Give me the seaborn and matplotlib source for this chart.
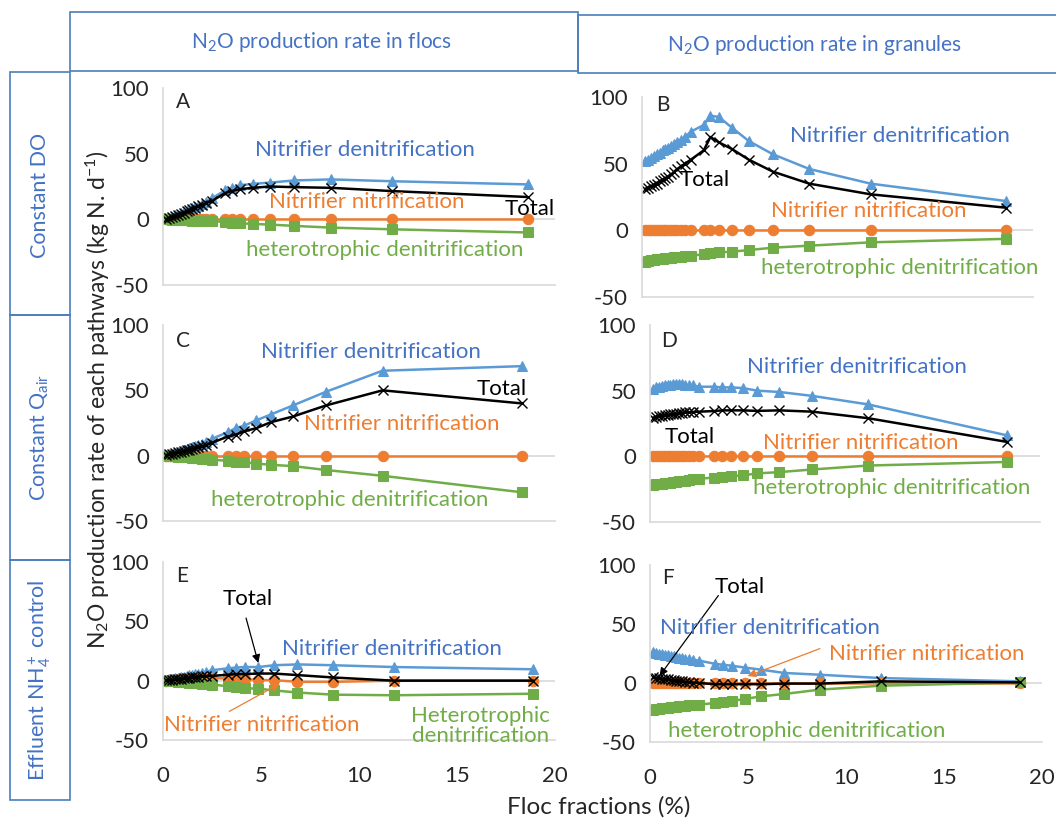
import matplotlib
matplotlib.use("Agg")
import matplotlib.pyplot as plt
from matplotlib.patches import Rectangle
import seaborn as sns

sns.set_style("white")
plt.rcParams["font.family"] = ["Lato", "DejaVu Sans"]
plt.rcParams["mathtext.fontset"] = "custom"
plt.rcParams["mathtext.rm"] = "Lato"
plt.rcParams["mathtext.it"] = "Lato:italic"
plt.rcParams["axes.unicode_minus"] = False

# ---- data ----
dense_x = [0.15, 0.3, 0.45, 0.6, 0.75, 0.9, 1.05, 1.2, 1.35, 1.5, 1.65, 1.8, 2.0, 2.2]
x_const_do = dense_x + [2.5, 3.16, 3.5, 3.93, 4.6, 5.46, 6.7, 8.56, 11.7, 18.6]
x_const_qair = dense_x + [2.52, 3.3, 3.7, 4.15, 4.75, 5.5, 6.64, 8.33, 11.2, 18.3]
x_nh4 = dense_x + [2.5, 3.3, 3.7, 4.2, 4.87, 5.67, 6.86, 8.67, 11.77, 18.9]

zeros = [0] * 24

a_nd = [0.5, 1, 2, 3, 3.5, 4.5, 5.5, 6.5, 7.5, 8.5, 9.5, 10.5, 12, 13.5, 16, 22, 24, 26, 27, 28, 29.6, 30.4, 29, 26.6]
a_total = [0.3, 0.8, 1.5, 2.5, 3, 4, 5, 6, 7, 8, 9, 10, 11, 12.5, 14, 20, 21.5, 23, 24, 25, 24.5, 24, 21.5, 17]
a_nn = zeros
a_hd = [0, -0.1, -0.2, -0.3, -0.4, -0.5, -0.6, -0.7, -0.8, -0.9, -1, -1, -1.1, -1.2, -1.3, -2, -2.5, -3, -3.5, -4, -5, -6.3, -7.6, -10]

b_nd = [52, 53, 54, 56, 57, 58, 60, 61, 62, 63, 65, 66, 68, 70, 74, 79, 86, 85, 77, 67, 57, 46, 35, 22]
b_total = [31, 32, 33, 34, 35, 37, 38, 39, 40, 42, 44, 46, 48, 50, 53, 60, 70, 66, 61, 53, 44, 35, 27, 17]
b_nn = zeros
b_hd = [-23.5, -23, -22.5, -22, -21.8, -21.5, -21.2, -21, -20.7, -20.5, -20.2, -20, -19.7, -19.4, -19, -18, -17.3, -16.5, -16, -14.8, -13, -11.5, -9, -6.4]

c_nd = [0.5, 1, 1.5, 2, 2.8, 3.5, 4.2, 5, 5.8, 6.5, 7.3, 8, 9, 10.5, 13, 18, 21, 23, 27, 31.5, 38.5, 49, 65, 68.5]
c_total = [0.5, 1, 1.5, 2, 2.5, 3, 3.5, 4, 4.6, 5.2, 5.8, 6.4, 7.2, 8.2, 10, 14.6, 16, 18.7, 21, 25.6, 30, 38.5, 50, 40]
c_nn = zeros
c_hd = [0, -0.2, -0.4, -0.5, -0.7, -0.9, -1, -1.2, -1.4, -1.6, -1.8, -2, -2.3, -2.6, -3, -4, -4.5, -5, -6, -7, -8, -11, -15.4, -28]

d_nd = [51.5, 52.5, 53, 53.5, 54, 54.5, 54.5, 54.8, 55, 55, 54.8, 54.5, 54.2, 54, 53, 53, 52.5, 52.5, 52, 50, 49, 46, 39.5, 16]
d_total = [29.5, 30, 30.5, 31, 31.5, 31.8, 32, 32.3, 32.6, 33, 33.2, 33.4, 33.6, 33.8, 34, 34.5, 35, 35, 35, 34.6, 35, 34, 29, 11]
d_nn = zeros
d_hd = [-21.5, -21.2, -21, -20.7, -20.5, -20.2, -20, -19.7, -19.4, -19.1, -18.8, -18.5, -18, -17.5, -17, -16.2, -15.8, -15, -14.5, -13, -12, -10, -7, -4.3]

e_nd = [0.5, 1, 1.5, 2, 2.5, 3, 3.5, 4, 4.5, 5, 5.5, 6, 6.8, 7.5, 8.8, 10.4, 11, 11.5, 11.5, 13, 13.7, 13, 11.5, 9.6]
e_total = [0.3, 0.5, 0.8, 1, 1.3, 1.6, 2, 2.3, 2.6, 2.9, 3.2, 3.5, 3.7, 3.9, 4, 5, 5.5, 5.5, 6, 6, 4.7, 2.7, 0, 0]
e_nn = [0, 0.2, 0.4, 0.6, 0.8, 1, 1.2, 1.4, 1.5, 1.6, 1.7, 1.8, 1.9, 2, 2, 2, 2, 1.4, 0.5, 0.5, -1, -1, 0, 0]
e_hd = [0, -0.2, -0.4, -0.6, -0.8, -1, -1.2, -1.4, -1.6, -1.8, -2, -2.2, -2.5, -2.8, -3.3, -4.7, -5.5, -6.3, -6.8, -8.2, -10, -11.8, -12.3, -11]

f_nd = [26, 25.5, 25, 24.5, 24, 23.5, 23, 22.5, 22, 21.5, 21, 20.5, 20, 19.5, 19, 16.3, 15.5, 14.6, 13, 11.3, 8.5, 7, 4.2, 1.4]
f_total = [5, 4.6, 4.2, 3.8, 3.4, 3, 2.7, 2.4, 2.1, 1.8, 1.5, 1.2, 0.8, 0.4, 0, -1, -1, -1, -1, -1, -0.5, -0.5, 1.4, 0.5]
f_nn = zeros
f_hd = [-22.5, -22.2, -21.9, -21.6, -21.3, -21, -20.7, -20.4, -20.1, -19.8, -19.5, -19.2, -18.9, -18.6, -18.3, -17, -16, -15, -13.5, -11.3, -9.3, -5.6, -2.3, 0.5]

yticks = [-50, 0, 50, 100]
xticks = [0, 5, 10, 15, 20]

BLUE = "#5B9BD5"
ORANGE = "#ED7D31"
GREEN = "#70AD47"
BLUE_TXT = "#4472C4"
ORANGE_TXT = "#ED7D31"
GREEN_TXT = "#70AD47"
BOX = "#4A7EBB"
GRID = "#D9D9D9"
LBL = 16  # series label font size

panels = {
    "A": (x_const_do, a_nd, a_nn, a_hd, a_total),
    "B": (x_const_do, b_nd, b_nn, b_hd, b_total),
    "C": (x_const_qair, c_nd, c_nn, c_hd, c_total),
    "D": (x_const_qair, d_nd, d_nn, d_hd, d_total),
    "E": (x_nh4, e_nd, e_nn, e_hd, e_total),
    "F": (x_nh4, f_nd, f_nn, f_hd, f_total),
}

# axes rectangles in pixels: left, top, right, bottom
W, H = 1056, 819
boxes_px = {
    "A": (163, 88, 555, 285),
    "B": (642, 97, 1033, 297),
    "C": (163, 325, 555, 521),
    "D": (650, 325, 1040, 522),
    "E": (163, 562, 555, 740),
    "F": (650, 565, 1042, 742),
}

fig = plt.figure(figsize=(W / 100, H / 100), dpi=100)

# background frame layer (header boxes and row boxes)
bg = fig.add_axes([0, 0, 1, 1], zorder=-1)
bg.set_xlim(0, W)
bg.set_ylim(H, 0)
bg.axis("off")
for (x0, y0, x1, y1) in [(70, 12, 578, 71), (578, 15, 1060, 73),
                         (10, 72, 70, 315), (10, 315, 70, 560), (10, 560, 70, 800)]:
    bg.add_patch(Rectangle((x0, y0), x1 - x0, y1 - y0, fill=False, edgecolor=BOX, lw=1.2))
bg.text(322, 42, r"N$_2$O production rate in flocs", color=BLUE_TXT, fontsize=15,
        ha="center", va="center")
bg.text(815, 45, r"N$_2$O production rate in granules", color=BLUE_TXT, fontsize=15,
        ha="center", va="center")
bg.text(40, 195, "Constant DO", color=BLUE_TXT, fontsize=15.5, rotation=90,
        ha="center", va="center")
bg.text(40, 437, r"Constant Q$_{\mathrm{air}}$", color=BLUE_TXT, fontsize=15.5, rotation=90,
        ha="center", va="center")
bg.text(40, 680, r"Effluent NH$_4^+$ control", color=BLUE_TXT, fontsize=15.5, rotation=90,
        ha="center", va="center")

axes = {}
for key, (l, t, r, b) in boxes_px.items():
    ax = fig.add_axes([l / W, 1 - b / H, (r - l) / W, (b - t) / H])
    ax.patch.set_alpha(0)
    axes[key] = ax
    x, nd, nn, hd, total = panels[key]
    ax.axhline(0, color=GRID, lw=1.2, zorder=0)
    sns.lineplot(x=x, y=nd, ax=ax, color=BLUE, marker="^", markersize=7.5,
                 markeredgecolor=BLUE, linewidth=1.8, estimator=None, sort=False)
    sns.lineplot(x=x, y=nn, ax=ax, color=ORANGE, marker="o", markersize=7.5,
                 markeredgecolor=ORANGE, linewidth=1.8, estimator=None, sort=False)
    sns.lineplot(x=x, y=hd, ax=ax, color=GREEN, marker="s", markersize=6.5,
                 markeredgecolor=GREEN, linewidth=1.8, estimator=None, sort=False)
    sns.lineplot(x=x, y=total, ax=ax, color="black", marker="x", markersize=7.5,
                 markeredgecolor="black", markeredgewidth=1.0, linewidth=1.8,
                 estimator=None, sort=False)
    ax.set_xlim(0, 20)
    ax.set_ylim(-50, 100)
    ax.set_xticks(xticks)
    ax.set_yticks(yticks)
    ax.set_xlabel("")
    ax.set_ylabel("")
    for s in ["top", "right"]:
        ax.spines[s].set_visible(False)
    for s in ["left", "bottom"]:
        ax.spines[s].set_color(GRID)
        ax.spines[s].set_linewidth(1.2)
    ax.tick_params(axis="y", length=0, pad=10, labelsize=16)
    ax.tick_params(axis="x", length=6, width=1.2, color=GRID, direction="out",
                   pad=13, labelsize=16, labelbottom=key in ("E", "F"))
    ax.text(1.0 if key != "F" else 0.92, 89 if key in "ABF" else 88, key,
            fontsize=15, ha="center", va="center")

# series labels
def lab(ax, x, y, s, c):
    ax.text(x, y, s, color=c, fontsize=LBL, ha="center", va="center")

ax = axes["A"]
lab(ax, 10.3, 53, "Nitrifier denitrification", BLUE_TXT)
lab(ax, 10.4, 13, "Nitrifier nitrification", ORANGE_TXT)
lab(ax, 18.7, 8, "Total", "black")
lab(ax, 11.3, -23, "heterotrophic denitrification", GREEN_TXT)

ax = axes["B"]
ax.texts[0].set_position((1.07, 94))
lab(ax, 13.2, 71, "Nitrifier denitrification", BLUE_TXT)
lab(ax, 3.2, 38, "Total", "black")
lab(ax, 11.6, 14.6, "Nitrifier nitrification", ORANGE_TXT)
lab(ax, 13.2, -28, "heterotrophic denitrification", GREEN_TXT)

ax = axes["C"]
lab(ax, 10.6, 79, "Nitrifier denitrification", BLUE_TXT)
lab(ax, 17.3, 51, "Total", "black")
lab(ax, 12.2, 24, "Nitrifier nitrification", ORANGE_TXT)
lab(ax, 9.5, -34, "heterotrophic denitrification", GREEN_TXT)

ax = axes["D"]
lab(ax, 10.6, 68, "Nitrifier denitrification", BLUE_TXT)
lab(ax, 2.05, 14.5, "Total", "black")
lab(ax, 10.8, 10, "Nitrifier nitrification", ORANGE_TXT)
lab(ax, 12.4, -24, "heterotrophic denitrification", GREEN_TXT)

ax = axes["E"]
lab(ax, 4.3, 69, "Total", "black")
ax.annotate("", xy=(4.9, 12.7), xytext=(4.2, 55), annotation_clip=False,
            arrowprops=dict(arrowstyle="-|>", color="black", lw=0.9, mutation_scale=12))
lab(ax, 11.7, 27, "Nitrifier denitrification", BLUE_TXT)
lab(ax, 5.05, -37, "Nitrifier nitrification", ORANGE_TXT)
ax.annotate("", xy=(6.07, -1.5), xytext=(3.26, -27), annotation_clip=False,
            arrowprops=dict(arrowstyle="-|>", color=ORANGE, lw=0.9, mutation_scale=12))
ax.text(16.2, -38, "Heterotrophic\ndenitrification", color=GREEN_TXT, fontsize=LBL,
        ha="center", va="center", linespacing=1.0)

ax = axes["F"]
lab(ax, 4.6, 81, "Total", "black")
ax.annotate("", xy=(0.4, 4), xytext=(3.57, 76), annotation_clip=False,
            arrowprops=dict(arrowstyle="-|>", color="black", lw=0.9, mutation_scale=12))
lab(ax, 6.1, 46.5, "Nitrifier denitrification", BLUE_TXT)
lab(ax, 14.1, 25, "Nitrifier nitrification", ORANGE_TXT)
ax.annotate("", xy=(4.85, 5), xytext=(8.8, 30), annotation_clip=False,
            arrowprops=dict(arrowstyle="-|>", color=ORANGE, lw=0.9, mutation_scale=12))
lab(ax, 8.0, -41, "heterotrophic denitrification", GREEN_TXT)

fig.text(98 / W, 1 - 400 / H, r"N$_2$O production rate of each pathways (kg N. d$^{-1}$)",
         rotation=90, fontsize=16.5, ha="center", va="center")
fig.text(599 / W, 1 - 807 / H, "Floc fractions (%)", fontsize=17.5, ha="center", va="center")

fig.savefig("out.png", dpi=100)
